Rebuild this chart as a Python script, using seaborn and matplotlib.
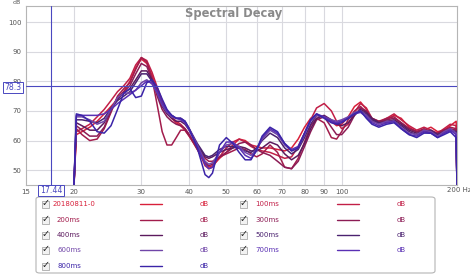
import matplotlib
matplotlib.use("Agg")
import matplotlib.pyplot as plt
from matplotlib.lines import Line2D
from matplotlib.patches import Rectangle, FancyBboxPatch
import seaborn as sns
import pandas as pd

# ---------------- data ----------------
freqs = [20, 20.3, 21, 22, 23, 24, 25, 26, 27, 28, 29, 30, 31, 32, 33, 34, 35, 36, 37, 38,
         39, 40, 42, 44, 45, 46, 48, 50, 52, 54, 56, 58, 60, 62, 65, 68, 71, 74, 77, 80,
         83, 86, 90, 94, 97, 100, 104, 108, 112, 116, 120, 125, 131, 137, 143, 150, 157, 164, 171, 178,
         185, 192, 199, 200]

series_names = ["20180811-0", "100ms", "200ms", "300ms", "400ms", "500ms", "600ms", "700ms", "800ms"]

s_20180811 = [44, 62, 63, 64.5, 66.5, 69, 71.5, 74, 76.5, 80, 84.5, 87.5, 86, 82, 77, 72.5, 69.5, 67.5, 66, 65,
              63.5, 61.5, 57, 52.5, 51, 51.5, 54, 56, 58.5, 60.5, 60, 58.5, 58, 57.5, 57.5, 57, 56.5, 57.5, 60.5, 64.5,
              67.5, 68.5, 68, 66.5, 65, 65.5, 68, 71.5, 73, 70.5, 67, 66, 67, 68.5, 67.5, 64.5, 63, 63.5, 64.5, 63,
              63.5, 65, 66.5, 44]
s_100 = [44, 63, 64, 65.5, 68, 70.5, 73.5, 76.5, 78.5, 81, 85.5, 88, 87, 83, 78, 73.5, 70, 68, 66.5, 65.5,
         64, 62, 57.5, 51.5, 50.5, 51, 54.5, 57.5, 59.5, 60.5, 59.5, 58, 57, 56.5, 56, 55, 54, 54.5, 58, 62.5,
         67, 71, 72.5, 70, 66.5, 64, 65.5, 69.5, 72.5, 71, 67.5, 66.5, 67.5, 69, 67, 65, 63.5, 64.5, 63.5, 62.5,
         64, 65.5, 65, 44]
s_200 = [44, 64, 62, 60, 60.5, 64, 69.5, 75, 77.5, 79.5, 84, 88, 86.5, 81, 72, 63, 58.5, 58.5, 61, 63.5,
         63.5, 61.5, 57.5, 54, 53, 53, 54.5, 55.5, 56.5, 57.5, 57, 55.5, 54.5, 55.5, 58.5, 56, 51, 50.5, 54, 59.5,
         65, 67.5, 66, 61, 60.5, 63, 67, 70, 71.5, 69.5, 66.5, 66, 67.5, 68, 66, 64, 63, 64, 63, 62,
         63.5, 64.5, 64, 44]
s_300 = [44, 65, 63.5, 61.5, 61.5, 64.5, 70, 74.5, 76.5, 78.5, 82.5, 86, 85, 80.5, 75, 70.5, 68, 66.5, 65.5, 65,
         64, 62, 57, 52.5, 51.5, 52, 54.5, 56, 57.5, 59, 59.5, 58.5, 57, 56, 55, 53, 51, 50.5, 53, 58,
         63, 67, 68, 64.5, 62, 62, 64.5, 68.5, 71, 70, 67.5, 66.5, 67, 67.5, 66, 64, 63, 63.5, 62.5, 62.5,
         63.5, 64, 63.5, 44]
s_400 = [44, 66, 65, 63.5, 63.5, 66, 70.5, 74, 76, 77.5, 80.5, 83.5, 83.5, 80.5, 76, 71.5, 69, 67.5, 66.5, 66.5,
         65.5, 63.5, 58.5, 54.5, 54, 54.5, 56, 57, 57.5, 58, 57.5, 56.5, 56.5, 57.5, 59.5, 58.5, 55.5, 53.5, 55, 59,
         64, 67.5, 68.5, 67, 65.5, 65, 66, 68.5, 70.5, 69.5, 67.5, 66, 66.5, 67, 65.5, 63.5, 62.5, 63, 62.5, 62,
         63, 63.5, 63, 44]
s_500 = [44, 67, 67, 66.5, 66, 67.5, 71, 73.5, 75, 76.5, 79.5, 82.5, 82.5, 80, 76.5, 72.5, 70, 68.5, 67.5, 67.5,
         66.5, 64, 59, 55, 54.5, 55, 57, 58, 58, 57.5, 56.5, 56, 57.5, 60, 62.5, 61, 57.5, 55.5, 57, 61,
         65.5, 68.5, 68, 66.5, 66, 66.5, 67.5, 69, 70, 69, 67, 66, 66, 66.5, 65, 63, 62, 63, 63.5, 62,
         62.5, 63.5, 63, 44]
s_600 = [44, 68, 68, 67, 65.5, 66.5, 70.5, 74.5, 76, 76, 77, 79.5, 80.5, 79, 76, 72, 69.5, 68, 67.5, 67.5,
         66.5, 64, 58.5, 53, 52, 52.5, 56, 58.5, 59, 58, 56, 55, 57, 60.5, 63.5, 62, 58.5, 56.5, 57.5, 62,
         66.5, 68.5, 68, 67, 66.5, 67, 68, 69.5, 70, 68.5, 66.5, 65.5, 66.5, 66.5, 64.5, 62.5, 62, 63.5, 63, 61.5,
         63, 64, 62.5, 44]
s_700 = [44, 68.5, 68.5, 68.5, 68.5, 69, 70.5, 72.5, 74, 75.5, 77, 78.5, 80, 79.5, 76.5, 72.5, 70, 68.5, 67.5, 67,
         66, 63.5, 58, 52, 50.5, 51, 56, 59.5, 59.5, 57.5, 55, 54, 56.5, 61, 64, 62.5, 59, 57, 58, 62.5,
         67, 69, 68, 66.5, 66, 66.5, 67.5, 69, 69.5, 68, 66, 65, 66, 66.5, 64, 62, 61.5, 63, 62.5, 61,
         62.5, 63.5, 62, 44]
s_800 = [44, 69, 68.5, 66.5, 63, 62.5, 65, 70.5, 76, 77.5, 74.5, 75, 79.5, 80.5, 78, 74, 70.5, 68.5, 67.5, 67.5,
         66.5, 64, 57.5, 48.5, 47.5, 49, 58.5, 61, 59, 56, 53.5, 53.5, 57, 61.5, 64.5, 63, 59, 56.5, 57.5, 62.5,
         67, 69, 67.5, 66, 65.5, 66, 67.5, 69, 70, 67.5, 65.5, 64.5, 65.5, 66, 64, 62, 61, 62.5, 62.5, 61,
         62, 63, 61, 44]

all_values = [s_20180811, s_100, s_200, s_300, s_400, s_500, s_600, s_700, s_800]
colors = ["#d8203a", "#c21f47", "#a21c4c", "#8c1c55", "#5c1a5e", "#4b2270", "#7045a8", "#5a30b4", "#3b24a8"]

x_ticks = [15, 20, 30, 40, 50, 60, 70, 80, 90, 100, 200]
x_tick_labels = ["15", "20", "30", "40", "50", "60", "70", "80", "90", "100", ""]
y_ticks = [50, 60, 70, 80, 90, 100]
cursor_x = 17.44
cursor_y = 78.3

# ---------------- figure ----------------
sns.set_theme(style="white")
plt.rcParams["font.family"] = ["DejaVu Sans"]

fig = plt.figure(figsize=(4.7, 2.75), dpi=100)
ax = fig.add_axes([26 / 470, 1 - 185 / 275, (457 - 26) / 470, (185 - 6) / 275])

rows = []
for name, vals in zip(series_names, all_values):
    for f, v in zip(freqs, vals):
        rows.append({"freq": f, "dB": v, "series": name})
df = pd.DataFrame(rows)

ax.set_xscale("log")
ax.set_xlim(15, 200)
ax.set_ylim(45, 105.4)

for xv in [20, 30, 40, 50, 60, 70, 80, 90, 100]:
    ax.axvline(xv, color="#d9d9df", lw=0.8, zorder=0)
for yv in y_ticks:
    ax.axhline(yv, color="#d9d9df", lw=0.8, zorder=0)

sns.lineplot(data=df, x="freq", y="dB", hue="series", hue_order=series_names,
             palette=dict(zip(series_names, colors)), estimator=None, sort=False,
             lw=1.1, legend=False, ax=ax, zorder=3)

ax.axvline(cursor_x, color="#4a48c0", lw=0.8, zorder=4)
ax.axhline(cursor_y, color="#4a48c0", lw=0.8, zorder=4)

ax.set_xticks(x_ticks)
ax.set_xticklabels(x_tick_labels)
ax.xaxis.set_minor_locator(matplotlib.ticker.NullLocator())
ax.set_yticks(y_ticks)
ax.set_yticklabels([str(t) for t in y_ticks])
ax.tick_params(axis="both", length=0, labelsize=5, labelcolor="#555555")
ax.tick_params(axis="x", pad=3)
ax.tick_params(axis="y", pad=3)
ax.set_xlabel("")
ax.set_ylabel("")
for sp in ax.spines.values():
    sp.set_color("#b5b5b5")
    sp.set_linewidth(0.8)

fig.text(234 / 470, 1 - 14 / 275, "Spectral Decay", ha="center", va="center",
         fontsize=8.3, fontweight="bold", color="#8a8a8a")
fig.text(459 / 470, 1 - 190.5 / 275, "200 Hz", ha="center", va="center", fontsize=5, color="#555555")
fig.text(17 / 470, 1 - 3 / 275, "dB", ha="center", va="center", fontsize=4.5, color="#555555")

box = dict(boxstyle="square,pad=0.18", fc="white", ec="#4a48c0", lw=0.7)
fig.text(13 / 470, 1 - 87.5 / 275, f"{cursor_y}", ha="center", va="center", fontsize=5.6,
         color="#4a48c0", bbox=box, zorder=10)
fig.text(51 / 470, 1 - 190.5 / 275, f"{cursor_x}", ha="center", va="center", fontsize=5.6,
         color="#4a48c0", bbox=box, zorder=10)

# ---------------- legend panel ----------------
panel = FancyBboxPatch((36 / 470, 1 - 273 / 275), (435 - 36) / 470, (273 - 197) / 275,
                       boxstyle="round,pad=0,rounding_size=0.008", transform=fig.transFigure,
                       fc="white", ec="#b5b5b5", lw=0.8)
fig.patches.append(panel)

row_y = [204, 220, 235, 250, 266]
col_x = [(45, 140, 204), (243, 337, 401)]
for i, (name, c) in enumerate(zip(series_names, colors)):
    col = i % 2
    r = i // 2
    cbx, lnx, dbx = col_x[col]
    yy = 1 - row_y[r] / 275
    fig.patches.append(Rectangle(((cbx - 3.5) / 470, yy - 3.5 / 275), 7 / 470, 7 / 275,
                                 transform=fig.transFigure, fc="#f2f2f2", ec="#9a9a9a", lw=0.5))
    fig.text(cbx / 470 + 0.5 / 470, yy + 1 / 275, "\u2713", ha="center", va="center", fontsize=7,
             color="#222222", fontweight="bold")
    tx = cbx + 8 if (i == 0) else cbx + 12
    fig.text(tx / 470, yy, name, ha="left", va="center", fontsize=5, color=c)
    fig.lines.append(Line2D([lnx / 470, (lnx + 22) / 470], [yy, yy], transform=fig.transFigure,
                            color=c, lw=1.0))
    fig.text(dbx / 470, yy, "dB", ha="center", va="center", fontsize=5, color=c)

fig.savefig("out.png", dpi=100)
